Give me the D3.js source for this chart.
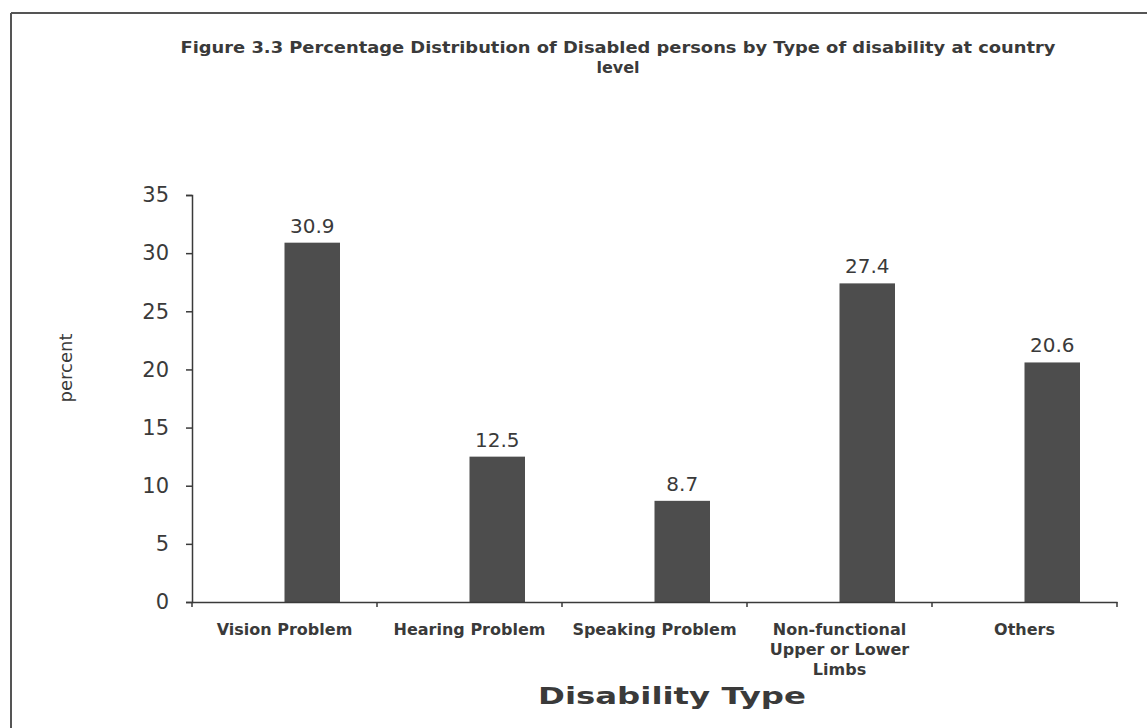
<!DOCTYPE html>
<html>
<head>
<meta charset="utf-8">
<script src="https://cdn.jsdelivr.net/npm/d3@7"></script>
<style>
  html, body { margin: 0; padding: 0; background: #fff; }
  svg { display: block; }
</style>
</head>
<body>
<svg id="chart" width="1147" height="728"></svg>
<script>
// ---- data ----
const categories = ["Vision Problem", "Hearing Problem", "Speaking Problem", "Non-functional Upper or Lower Limbs", "Others"];
const categoryLines = [["Vision Problem"], ["Hearing Problem"], ["Speaking Problem"], ["Non-functional", "Upper or Lower", "Limbs"], ["Others"]];
const values = [30.9, 12.5, 8.7, 27.4, 20.6];
const yTicks = [0, 5, 10, 15, 20, 25, 30, 35];
const titleLines = ["Figure 3.3 Percentage Distribution  of Disabled persons by Type of disability at country", "level"];
const xTitle = "Disability Type";
const yTitle = "percent";

// ---- drawing ----
const svg = d3.select("#chart");
const ink = "#3a3a3a";

// frame of the scanned figure
svg.append("line").attr("x1", 11).attr("x2", 1147).attr("y1", 13).attr("y2", 13)
  .attr("stroke", "#555").attr("stroke-width", 2);
svg.append("line").attr("x1", 11).attr("x2", 11).attr("y1", 13).attr("y2", 728)
  .attr("stroke", "#555").attr("stroke-width", 2);

const x = d3.scaleBand().domain(categories).range([192, 1117]).paddingInner(0).paddingOuter(0);
const y = d3.scaleLinear().domain([0, 35]).range([602, 195]);

// title
svg.append("g").selectAll("text").data(titleLines).join("text")
  .attr("x", 618).attr("y", (d, i) => 53 + i * 20)
  .attr("text-anchor", "middle")
  .attr("font-family", "DejaVu Sans, sans-serif").attr("font-weight", "bold")
  .attr("font-size", 16).attr("fill", ink)
  .attr("textLength", (d, i) => i === 0 ? 875 : null)
  .attr("lengthAdjust", "spacingAndGlyphs")
  .text(d => d);

// bars
svg.append("g").selectAll("rect").data(values).join("rect")
  .attr("x", (d, i) => x(categories[i]) + x.bandwidth() / 2)
  .attr("width", x.bandwidth() * 0.3)
  .attr("y", d => y(d))
  .attr("height", d => y(0) - y(d))
  .attr("fill", "#4d4d4d");

// value labels
svg.append("g").selectAll("text").data(values).join("text")
  .attr("x", (d, i) => x(categories[i]) + x.bandwidth() / 2 + x.bandwidth() * 0.15)
  .attr("y", d => y(d) - 10)
  .attr("text-anchor", "middle")
  .attr("font-family", "DejaVu Sans, sans-serif").attr("font-size", 20)
  .attr("fill", ink)
  .text(d => d.toFixed(1));

// y axis
const yAxis = svg.append("g").attr("transform", "translate(192,0)")
  .call(d3.axisLeft(y).tickValues(yTicks).tickSize(6).tickPadding(17).tickFormat(d3.format("d")));
yAxis.select(".domain").attr("stroke", ink).attr("stroke-width", 1.5);
yAxis.selectAll(".tick line").attr("stroke", ink).attr("stroke-width", 1.5);
yAxis.selectAll(".tick text").attr("font-family", "DejaVu Sans, sans-serif")
  .attr("font-size", 21).attr("fill", ink);

// x axis
const xAxis = svg.append("g").attr("transform", "translate(0,602)")
  .call(d3.axisBottom(x).tickSize(0).tickFormat(""));
xAxis.select(".domain").attr("stroke", ink).attr("stroke-width", 1.5);
xAxis.selectAll(".tick").remove();
// category boundary ticks
const bounds = categories.map(c => x(c)).concat([x.range()[1]]);
xAxis.selectAll("line.bound").data(bounds).join("line")
  .attr("class", "bound")
  .attr("x1", d => d).attr("x2", d => d).attr("y1", 0).attr("y2", 5)
  .attr("stroke", ink).attr("stroke-width", 1.5);

// category labels
const catG = svg.append("g").selectAll("g").data(categories).join("g")
  .attr("transform", c => `translate(${x(c) + x.bandwidth() / 2},0)`);
catG.each(function(c, i) {
  d3.select(this).selectAll("text").data(categoryLines[i]).join("text")
    .attr("x", 0).attr("y", (d, j) => 635 + j * 20)
    .attr("text-anchor", "middle")
    .attr("font-family", "DejaVu Sans, sans-serif").attr("font-weight", "bold")
    .attr("font-size", 16).attr("fill", ink)
    .text(d => d);
});

// axis titles
svg.append("text").attr("x", 672).attr("y", 704)
  .attr("text-anchor", "middle")
  .attr("font-family", "DejaVu Sans, sans-serif").attr("font-weight", "bold")
  .attr("font-size", 23).attr("fill", ink)
  .attr("textLength", 268).attr("lengthAdjust", "spacingAndGlyphs")
  .text(xTitle);

svg.append("text")
  .attr("transform", "translate(72,368) rotate(-90)")
  .attr("text-anchor", "middle")
  .attr("font-family", "DejaVu Sans, sans-serif")
  .attr("font-size", 18).attr("fill", ink)
  .text(yTitle);
</script>
</body>
</html>
